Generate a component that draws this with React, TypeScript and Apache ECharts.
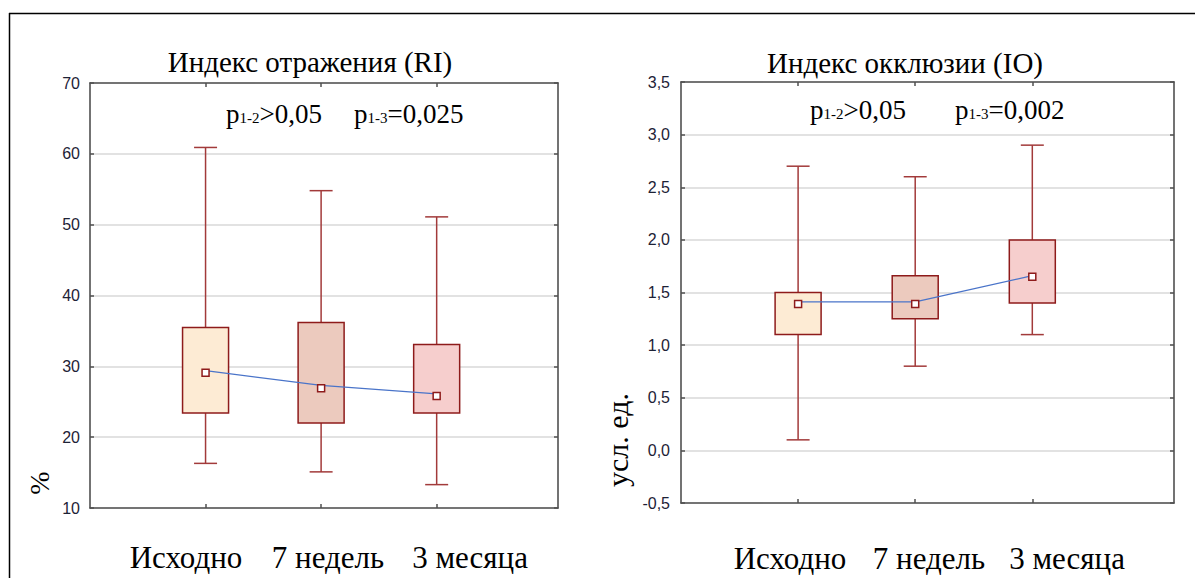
import React, { useEffect, useRef } from "react";
import * as echarts from "echarts";

// ---- data ----
const categories = ["Исходно", "7 недель", "3 месяца"];

// Индекс отражения (RI), %
const riMin = [16.3, 15.1, 13.3];
const riQ1 = [23.4, 22.0, 23.4];
const riMedian = [29.1, 26.9, 25.8];
const riQ3 = [35.5, 36.2, 33.1];
const riMax = [60.9, 54.8, 51.1];
const riMean = [29.4, 27.3, 26.1];

// Индекс окклюзии (IO), усл. ед.
const ioMin = [0.1, 0.8, 1.1];
const ioQ1 = [1.1, 1.25, 1.4];
const ioMedian = [1.39, 1.39, 1.65];
const ioQ3 = [1.5, 1.66, 2.0];
const ioMax = [2.7, 2.6, 2.9];
const ioMean = [1.41, 1.41, 1.66];

const riTitle = "Индекс отражения (RI)";
const ioTitle = "Индекс окклюзии (IO)";
const riP12 = ">0,05";
const riP13 = "=0,025";
const ioP12 = ">0,05";
const ioP13 = "=0,002";
const riYName = "%";
const ioYName = "усл. ед.";

const serif = '"Liberation Serif", "Times New Roman", serif';
const sans = '"Liberation Sans", Arial, sans-serif';

const boxFills = ["#FDEBD4", "#ECCABE", "#F6CECD"];
const boxStroke = "#8E1B1B";
const whiskerStroke = "#A23A3A";
const frameColor = "#505050";

function renderBox(params: any, api: any) {
  const x = api.value(0);
  const lo = api.coord([x, api.value(1)]);
  const q1 = api.coord([x, api.value(2)]);
  const q3 = api.coord([x, api.value(3)]);
  const hi = api.coord([x, api.value(4)]);
  const cx = lo[0];
  const bw = 46;
  const cw = 23;
  const ws = { stroke: whiskerStroke, lineWidth: 1.5 };
  return {
    type: "group",
    children: [
      { type: "line", shape: { x1: cx, y1: hi[1], x2: cx, y2: q3[1] }, style: ws },
      { type: "line", shape: { x1: cx, y1: q1[1], x2: cx, y2: lo[1] }, style: ws },
      { type: "line", shape: { x1: cx - cw / 2, y1: hi[1], x2: cx + cw / 2, y2: hi[1] }, style: ws },
      { type: "line", shape: { x1: cx - cw / 2, y1: lo[1], x2: cx + cw / 2, y2: lo[1] }, style: ws },
      {
        type: "rect",
        shape: { x: cx - bw / 2, y: q3[1], width: bw, height: q1[1] - q3[1] },
        style: { fill: boxFills[params.dataIndex], stroke: boxStroke, lineWidth: 1.5 },
      },
    ],
  };
}

function axesFor(gridIndex: number, xmax: number, ymin: number, ymax: number, interval: number, fmt: (v: number) => string, labelMargin: number) {
  const line = { show: true, onZero: false, lineStyle: { color: frameColor, width: 1.6 } };
  const tick = { show: true, inside: true, length: 4, lineStyle: { color: frameColor, width: 1.5 }, customValues: [1, 2, 3] };
  const xAxes = [
    { gridIndex, type: "value", min: 0, max: xmax, position: "bottom", axisLine: line, axisTick: tick, axisLabel: { show: false }, splitLine: { show: false } },
    { gridIndex, type: "value", min: 0, max: xmax, position: "top", axisLine: line, axisTick: tick, axisLabel: { show: false }, splitLine: { show: false } },
  ];
  const ytick = { show: true, inside: true, length: 4, lineStyle: { color: frameColor, width: 1.5 } };
  const yAxes = [
    {
      gridIndex, type: "value", min: ymin, max: ymax, interval, position: "left",
      axisLine: line, axisTick: ytick,
      axisLabel: { show: true, formatter: fmt, color: "#1d2236", fontFamily: sans, fontSize: 16, margin: labelMargin },
      splitLine: { show: true, lineStyle: { color: "#e2e2e2", width: 2 } },
    },
    {
      gridIndex, type: "value", min: ymin, max: ymax, interval, position: "right",
      axisLine: line, axisTick: ytick, axisLabel: { show: false }, splitLine: { show: false },
    },
  ];
  return { xAxes, yAxes };
}

function seriesFor(gridIdx: number, mins: number[], q1: number[], med: number[], q3: number[], max: number[], mean: number[]) {
  const xi = gridIdx * 2;
  const yi = gridIdx * 2;
  return [
    {
      type: "custom",
      xAxisIndex: xi,
      yAxisIndex: yi,
      renderItem: renderBox,
      encode: { x: 0, y: [1, 2, 3, 4] },
      data: categories.map((_, i) => [i + 1, mins[i], q1[i], q3[i], max[i]]),
      z: 2,
    },
    {
      type: "line",
      xAxisIndex: xi,
      yAxisIndex: yi,
      data: categories.map((_, i) => [i + 1, mean[i]]),
      symbol: "none",
      lineStyle: { color: "#4a74c9", width: 1.3 },
      z: 3,
    },
    {
      type: "scatter",
      xAxisIndex: xi,
      yAxisIndex: yi,
      data: categories.map((_, i) => [i + 1, med[i]]),
      symbol: "rect",
      symbolSize: 7,
      itemStyle: { color: "#ffffff", borderColor: boxStroke, borderWidth: 1.5, opacity: 1 },
      z: 4,
    },
  ];
}

function pText(x: number, y: number, sub: string, rest: string) {
  return {
    type: "text",
    x,
    y,
    style: {
      text: `{p|p}{s|${sub}}{p|${rest}}`,
      textVerticalAlign: "middle",
      rich: {
        p: { fontFamily: serif, fontSize: 27, fill: "#000" },
        s: { fontFamily: serif, fontSize: 15, fill: "#000", padding: [8, 0, 0, 0] },
      },
    },
  };
}

export default function App() {
  const ref = useRef<HTMLDivElement>(null);
  useEffect(() => {
    if (!ref.current) return;
    const chart = echarts.init(ref.current, undefined, { renderer: "svg" });
    const left = axesFor(0, 4.05, 10, 70, 10, (v: number) => String(v), 10);
    const right = axesFor(1, 4.21, -0.5, 3.5, 0.5, (v: number) => v.toFixed(1).replace(".", ","), 11);

    const catPosL = [186, 328, 470];
    const catPosR = [790, 929, 1067];

    const option: any = {
      animation: false,
      backgroundColor: "#ffffff",
      grid: [
        { left: 90, top: 83, width: 468, height: 425 },
        { left: 681, top: 82, width: 493, height: 421 },
      ],
      xAxis: [...left.xAxes, ...right.xAxes],
      yAxis: [...left.yAxes, ...right.yAxes],
      series: [
        ...seriesFor(0, riMin, riQ1, riMedian, riQ3, riMax, riMean),
        ...seriesFor(1, ioMin, ioQ1, ioMedian, ioQ3, ioMax, ioMean),
      ],
      graphic: [
        { type: "line", shape: { x1: 9, y1: 13.5, x2: 1195, y2: 13.5 }, style: { stroke: "#000", lineWidth: 1.5 } },
        { type: "line", shape: { x1: 9.5, y1: 13, x2: 9.5, y2: 578 }, style: { stroke: "#000", lineWidth: 1.5 } },
        { type: "text", x: 310, y: 62, style: { text: riTitle, fontFamily: serif, fontSize: 29, fill: "#000", textAlign: "center", textVerticalAlign: "middle" } },
        { type: "text", x: 905, y: 63, style: { text: ioTitle, fontFamily: serif, fontSize: 29, fill: "#000", textAlign: "center", textVerticalAlign: "middle" } },
        pText(226, 114, "1-2", riP12),
        pText(354, 114, "1-3", riP13),
        pText(810, 110, "1-2", ioP12),
        pText(955, 110, "1-3", ioP13),
        { type: "text", x: 39, y: 483, rotation: Math.PI / 2, style: { text: riYName, fontFamily: serif, fontSize: 28, fill: "#000", textAlign: "center", textVerticalAlign: "middle" } },
        { type: "text", x: 617, y: 440, rotation: Math.PI / 2, style: { text: ioYName, fontFamily: serif, fontSize: 30, fill: "#000", textAlign: "center", textVerticalAlign: "middle" } },
        ...categories.map((c, i) => ({ type: "text", x: catPosL[i], y: 557, style: { text: c, fontFamily: serif, fontSize: 31, fill: "#000", textAlign: "center", textVerticalAlign: "middle" } })),
        ...categories.map((c, i) => ({ type: "text", x: catPosR[i], y: 558, style: { text: c, fontFamily: serif, fontSize: 31, fill: "#000", textAlign: "center", textVerticalAlign: "middle" } })),
      ],
    };
    chart.setOption(option);
    return () => chart.dispose();
  }, []);
  return <div ref={ref} style={{ position: "fixed", left: 0, top: 0, width: 1195, height: 578 }} />;
}
